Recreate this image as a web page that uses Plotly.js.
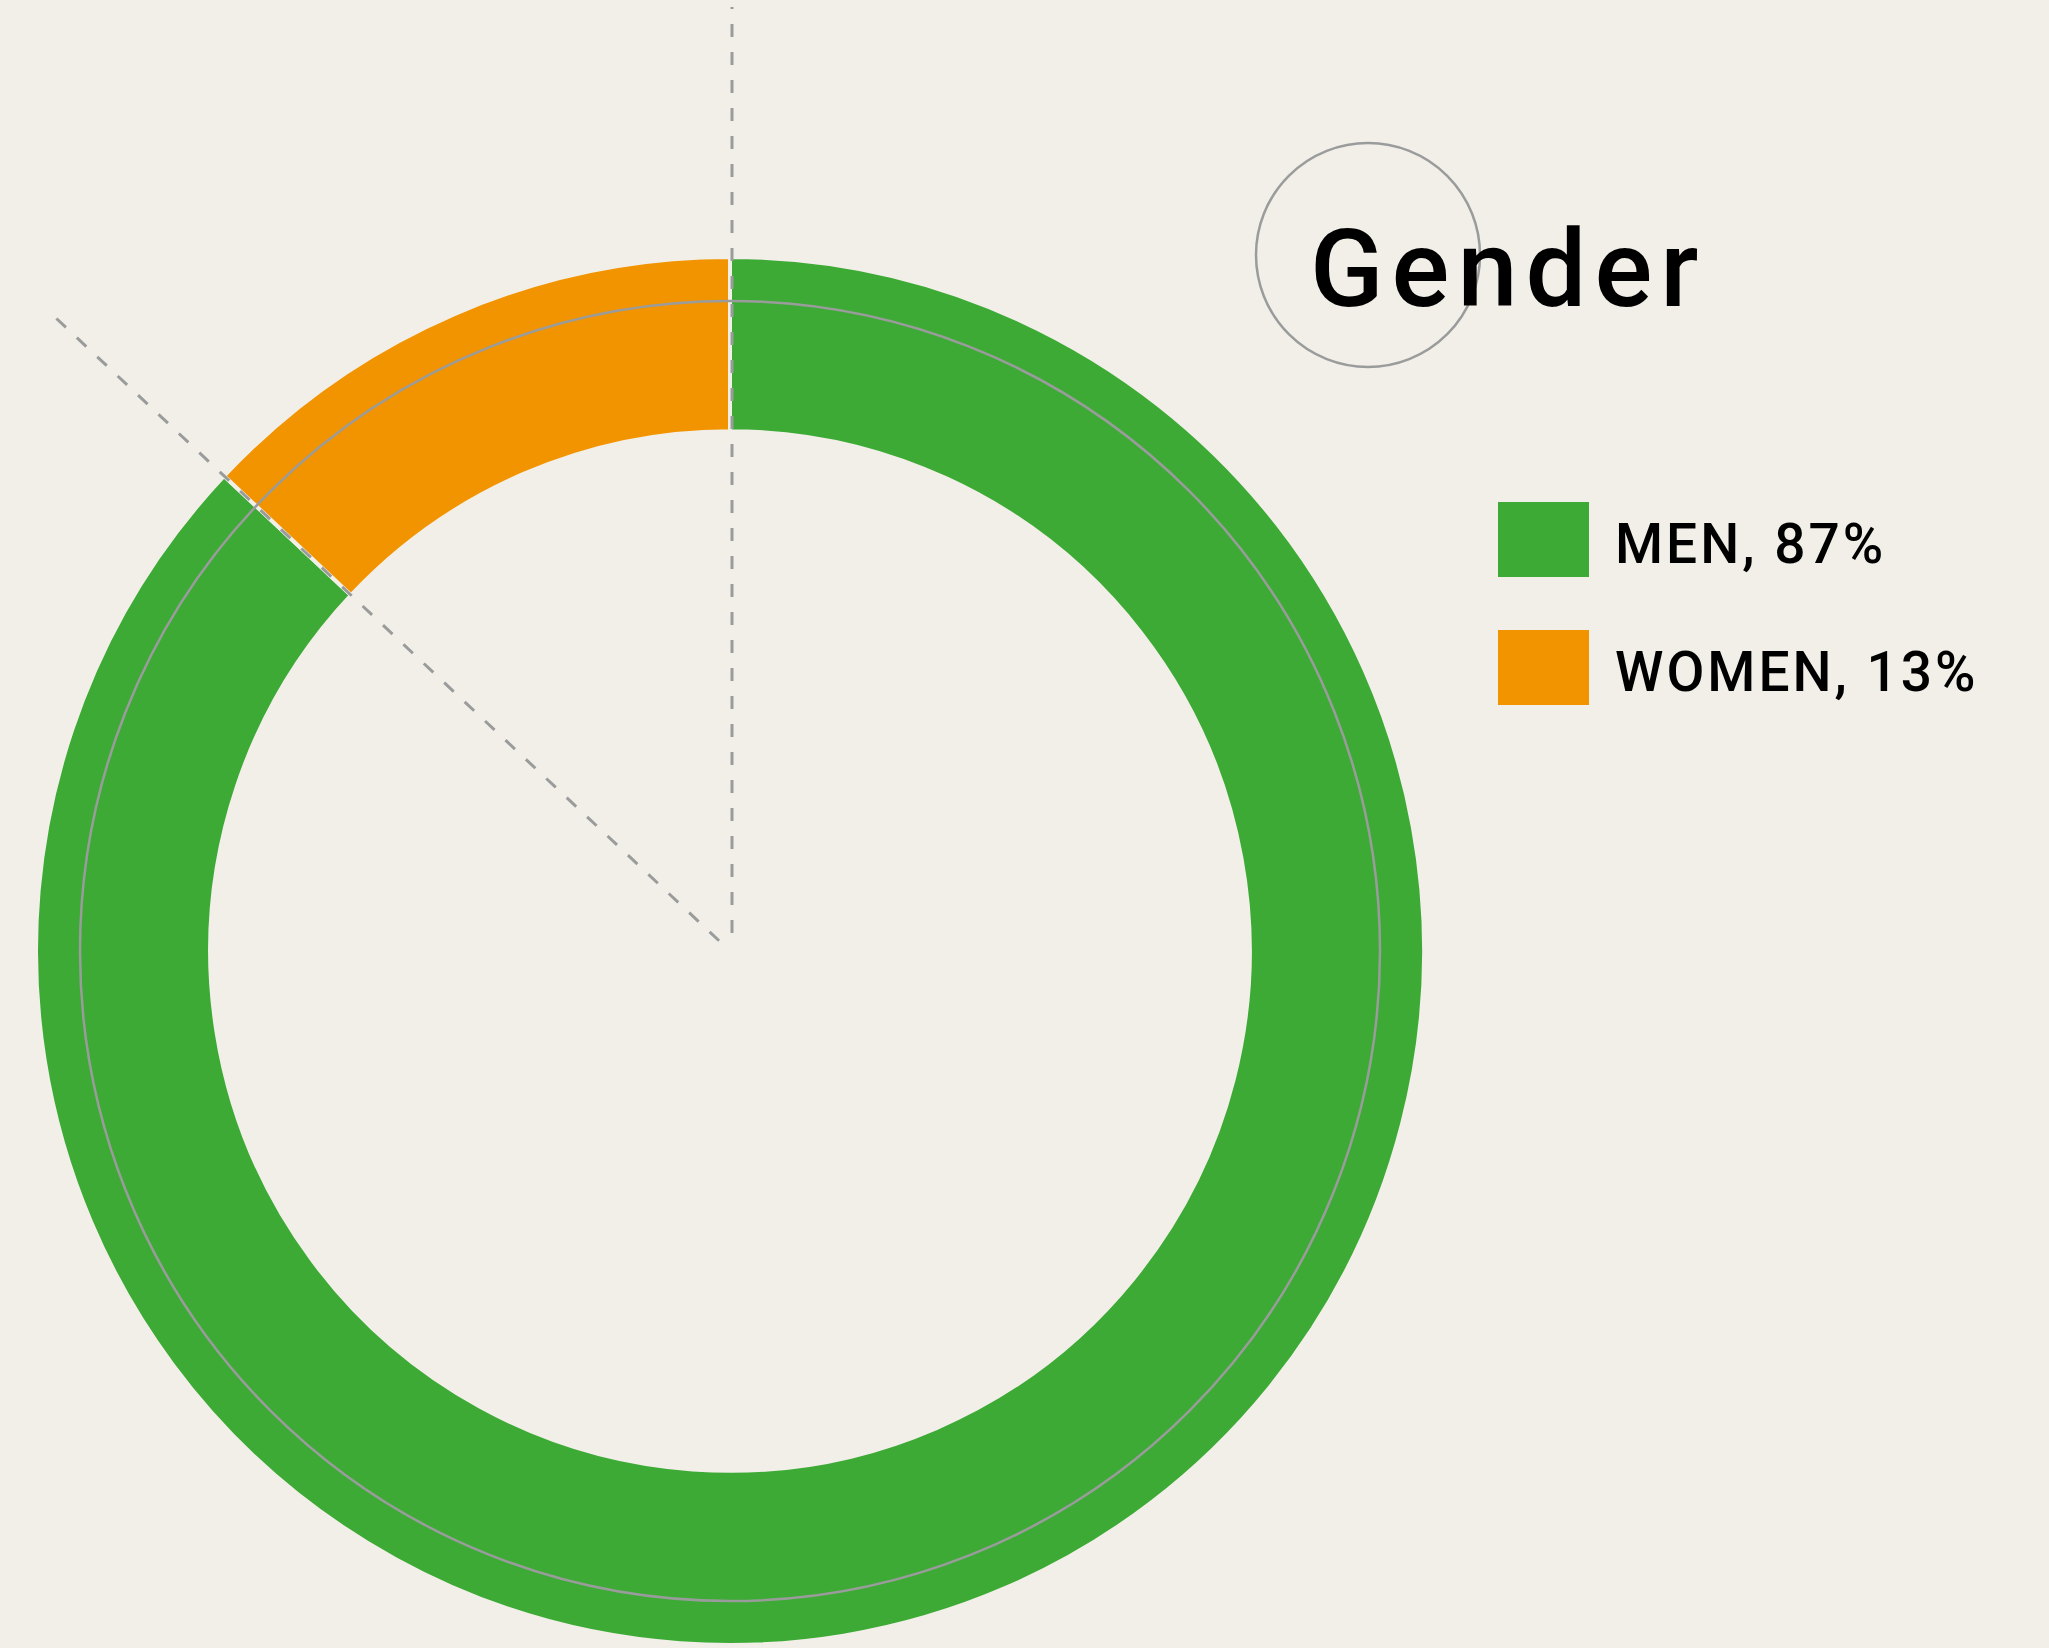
<!DOCTYPE html>
<html>
<head>
<meta charset="utf-8">
<script src="https://cdn.plot.ly/plotly-3.0.1.min.js"></script>
<style>
  html, body { margin: 0; padding: 0; background: #f2efe9; }
  #chart { width: 2049px; height: 1648px; }
  .annotation-text { letter-spacing: 3px; }
  .gtitle { letter-spacing: 8px; }
</style>
</head>
<body>
<div id="chart"></div>
<script>
// ---- data ----
const labels = ['MEN', 'WOMEN'];
const values = [87, 13];
const colors = ['#3caa35', '#f29400'];
const legendOrder = ['MEN', 'WOMEN'];
const chartTitle = 'Gender';

// ---- layout geometry (pixels) ----
const W = 2049, H = 1648;
const cx = 730, cy = 951;      // donut centre
const R = 694;                 // outer radius incl. separator line
const hole = 0.749;
const ringR = 650;             // thin guide ring
const bg = '#f2efe9';
const guide = '#9a9c9c';

const px = x => x / W;
const py = y => 1 - y / H;

const trace = {
  type: 'pie',
  labels: labels,
  values: values,
  sort: false,
  direction: 'clockwise',
  rotation: 0,
  hole: hole,
  textinfo: 'none',
  hoverinfo: 'label+percent',
  showlegend: false,
  marker: { colors: colors, line: { color: bg, width: 4 } },
  domain: { x: [px(cx - R), px(cx + R)], y: [py(cy + R), py(cy - R)] }
};

// angle of boundary before the last slice (measured ccw from 12 o'clock)
const total = values.reduce((a, b) => a + b, 0);
const theta = values[values.length - 1] / total * 2 * Math.PI;
const dx = -Math.sin(theta), dy = -Math.cos(theta);
const r0 = 15, r1 = 926;

const shapes = [
  // thin guide ring
  { type: 'circle', xref: 'paper', yref: 'paper',
    x0: px(cx - ringR), x1: px(cx + ringR), y0: py(cy + ringR), y1: py(cy - ringR),
    line: { color: guide, width: 2.5 }, fillcolor: 'rgba(0,0,0,0)' },
  // vertical dashed guide
  { type: 'line', xref: 'paper', yref: 'paper',
    x0: px(cx + 2), x1: px(cx + 2), y0: py(cy - 18), y1: py(cy - 944),
    line: { color: guide, width: 3, dash: '13px,15px' } },
  // diagonal dashed guide along slice boundary
  { type: 'line', xref: 'paper', yref: 'paper',
    x0: px(cx + dx * r0), y0: py(cy + dy * r0), x1: px(cx + dx * r1), y1: py(cy + dy * r1),
    line: { color: guide, width: 3, dash: '13px,15px' } },
  // circle around title start
  { type: 'circle', xref: 'paper', yref: 'paper',
    x0: px(1368 - 112), x1: px(1368 + 112), y0: py(255 + 112), y1: py(255 - 112),
    line: { color: guide, width: 2.5 }, fillcolor: 'rgba(0,0,0,0)' }
];

const annotations = [];
const legTop = [502, 630];
legendOrder.forEach((lab, i) => {
  const k = labels.indexOf(lab);
  shapes.push({ type: 'rect', xref: 'paper', yref: 'paper',
    x0: px(1498), x1: px(1589), y0: py(legTop[i] + 75), y1: py(legTop[i]),
    fillcolor: colors[k], line: { width: 0 } });
  annotations.push({ xref: 'paper', yref: 'paper', x: px(1613), y: py(legTop[i] + 42),
    xanchor: 'left', yanchor: 'middle', showarrow: false,
    text: lab + ', ' + values[k] + '%',
    font: { family: 'Roboto, sans-serif', size: 55, weight: 500, color: '#000' } });
});

const layout = {
  width: W, height: H,
  paper_bgcolor: bg, plot_bgcolor: bg,
  margin: { l: 0, r: 0, t: 0, b: 0 },
  showlegend: false,
  title: { text: chartTitle, x: px(1310), xanchor: 'left', xref: 'paper',
           y: py(268), yanchor: 'middle', yref: 'container',
           font: { family: 'Roboto, sans-serif', size: 108, weight: 500, color: '#000' } },
  shapes: shapes,
  annotations: annotations
};

Plotly.newPlot('chart', [trace], layout, { displayModeBar: false, staticPlot: true });
</script>
</body>
</html>
